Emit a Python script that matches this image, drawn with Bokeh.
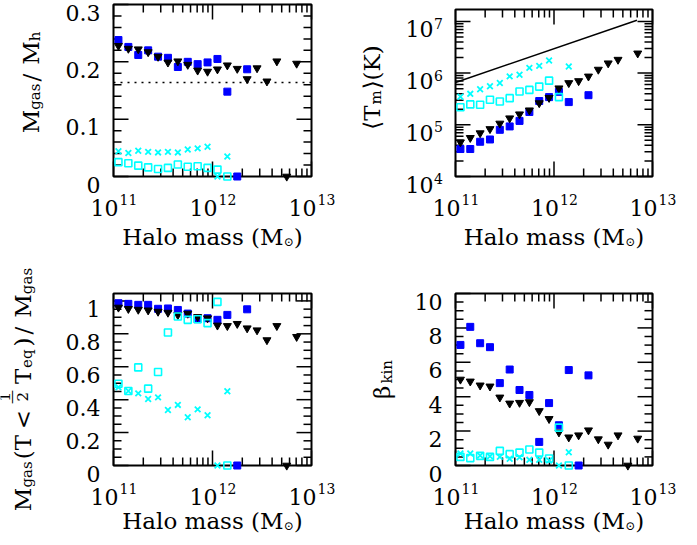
from math import pi, log10
from bokeh.plotting import figure
from bokeh.models import ColumnDataSource
from bokeh.core.properties import value
from bokeh.layouts import gridplot
from bokeh.embed import file_html
from bokeh.resources import INLINE

NAN = float("nan")
FONT = "DejaVu Serif"

# ---------------- data ----------------
halo_log_mass = [11.05, 11.15, 11.25, 11.35, 11.45, 11.55, 11.65, 11.75, 11.85, 11.95,
                 12.05, 12.15, 12.25, 12.35, 12.45, 12.55, 12.65, 12.75, 12.85]

# panel 1: Mgas / Mh
fgas_blue = [0.238, 0.226, 0.212, 0.220, 0.209, 0.207, 0.191, 0.200, 0.196, 0.199,
             0.205, 0.148, 0.0, 0.187, NAN, NAN, NAN, NAN, NAN]
fgas_tri = [0.228, 0.223, 0.222, 0.217, 0.209, 0.199, 0.201, 0.195, 0.185, 0.183,
            0.187, 0.194, 0.188, 0.170, 0.189, 0.166, 0.201, 0.0, 0.197]
fgas_cross = [0.044, 0.041, 0.045, 0.043, 0.042, 0.043, 0.042, 0.047, 0.049, 0.052,
              0.0, 0.035, NAN, NAN, NAN, NAN, NAN, NAN, NAN]
fgas_osq = [0.025, 0.023, 0.019, 0.016, 0.013, 0.015, 0.021, 0.017, 0.018, 0.015,
            0.012, 0.0, NAN, NAN, NAN, NAN, NAN, NAN, NAN]
baryon_fraction = 0.164

# panel 2: <T_m> (K)
tm_blue = [3.4e4, 3.4e4, 4.7e4, 5.2e4, 8.0e4, 9.3e4, 1.19e5, 1.77e5, 2.88e5, 3.43e5,
           4.34e5, 2.75e5, NAN, 3.74e5, NAN, NAN, NAN, NAN, NAN]
tm_tri = [4.6e4, 5.6e4, 6.9e4, 8.3e4, 1.06e5, 1.34e5, 1.60e5, 1.91e5, 2.63e5, 3.33e5,
          5.09e5, 6.44e5, 7.03e5, 8.63e5, 1.17e6, 1.55e6, 1.82e6, NAN, 2.41e6]
tm_cross = [3.48e5, 3.97e5, 4.88e5, 5.56e5, 6.44e5, 8.63e5, 9.29e5, 1.26e6, 1.38e6, 1.75e6,
            NAN, 1.34e6, NAN, NAN, NAN, NAN, NAN, NAN, NAN]
tm_osq = [2.18e5, 2.48e5, 2.45e5, 3.05e5, 2.83e5, 3.28e5, 4.40e5, 4.73e5, 5.48e5, 7.14e5,
          3.43e5, NAN, NAN, NAN, NAN, NAN, NAN, NAN, NAN]
tvir_mass = [1.0e11, 6.95e12]
tvir_temp = [6.6e5, 1.05e7]

# panel 3: Mgas(T < Teq/2) / Mgas
fcold_blue = [0.986, 0.982, 0.976, 0.976, 0.952, 0.954, 0.945, 0.923, 0.889, 0.895,
              0.885, 0.915, 0.0, 0.949, NAN, NAN, NAN, NAN, NAN]
fcold_tri = [0.960, 0.952, 0.947, 0.943, 0.935, 0.929, 0.915, 0.923, 0.903, 0.895,
             0.851, 0.848, 0.861, 0.834, 0.822, 0.762, 0.848, 0.0, 0.782]
fcold_cross = [0.475, 0.453, 0.438, 0.404, 0.414, 0.337, 0.368, 0.293, 0.341, 0.305,
               0.0, 0.451, NAN, NAN, NAN, NAN, NAN, NAN, NAN]
fcold_osq = [0.497, 0.453, 0.596, 0.467, 0.568, 0.808, 0.905, 0.885, 0.889, 0.865,
             0.994, 0.0, NAN, NAN, NAN, NAN, NAN, NAN, NAN]

# panel 4: beta_kin
beta_blue = [7.01, 8.06, 7.11, 6.88, 4.79, 5.58, 4.39, 4.10, 1.37, 3.63,
             2.34, 5.55, 0.0, 5.24, NAN, NAN, NAN, NAN, NAN]
beta_tri = [5.00, 4.89, 4.66, 4.60, 3.96, 3.61, 3.65, 3.69, 3.17, 2.71,
            1.93, 1.64, 1.76, 2.05, 1.53, 1.22, 1.76, 0.0, 1.57]
beta_cross = [0.70, 0.70, 0.58, 0.54, 0.50, 0.39, 0.48, 0.33, 0.33, 0.29,
              0.0, 0.77, NAN, NAN, NAN, NAN, NAN, NAN, NAN]
beta_osq = [0.50, 0.43, 0.56, 0.50, 0.85, 0.66, 0.75, 0.93, 0.75, 0.41,
            2.20, 0.0, NAN, NAN, NAN, NAN, NAN, NAN, NAN]

# axes: limits, ticks and tick labels
mass_lim = [1e11, 1e13]
mass_ticks = [1e11, 1e12, 1e13]
mass_tick_exp = ["11", "12", "13"]
mass_minor = [2e11, 3e11, 4e11, 5e11, 6e11, 7e11, 8e11, 9e11,
              2e12, 3e12, 4e12, 5e12, 6e12, 7e12, 8e12, 9e12]

fgas_lim = [0.0, 0.3]
fgas_ticks = [0.0, 0.1, 0.2, 0.3]
fgas_tick_labels = ["0", "0.1", "0.2", "0.3"]
fgas_minor = [0.02, 0.04, 0.06, 0.08, 0.12, 0.14, 0.16, 0.18, 0.22, 0.24, 0.26, 0.28]

tm_lim = [1e4, 10 ** 7.23]
tm_ticks = [1e4, 1e5, 1e6, 1e7]
tm_tick_exp = ["4", "5", "6", "7"]
tm_minor = [m * 10.0 ** e for e in (4, 5, 6) for m in range(2, 10)]

fcold_lim = [0.0, 1.045]
fcold_ticks = [0.0, 0.2, 0.4, 0.6, 0.8, 1.0]
fcold_tick_labels = ["0", "0.2", "0.4", "0.6", "0.8", "1"]
fcold_minor = [0.05, 0.1, 0.15, 0.25, 0.3, 0.35, 0.45, 0.5, 0.55, 0.65, 0.7, 0.75,
               0.85, 0.9, 0.95]

beta_lim = [0.0, 10.0]
beta_ticks = [0, 2, 4, 6, 8, 10]
beta_tick_labels = ["0", "2", "4", "6", "8", "10"]
beta_minor = [0.5, 1, 1.5, 2.5, 3, 3.5, 4.5, 5, 5.5, 6.5, 7, 7.5, 8.5, 9, 9.5]

halo_mass = [10.0 ** v for v in halo_log_mass]

MAIN = 22     # tick labels
TITLE = 23    # axis titles
SUB = 15
SUP = 14

# ---------------- helpers ----------------
WID = {' ': 0.318, '(': 0.390, ')': 0.390, '/': 0.337, '<': 0.838, '.': 0.318,
       'H': 0.873, 'M': 1.023, 'T': 0.70, 'K': 0.745, 'a': 0.598, 'l': 0.320,
       'o': 0.602, 'm': 0.950, 's': 0.512, 'g': 0.642, 'h': 0.642, 'e': 0.591,
       'q': 0.642, 'k': 0.606, 'i': 0.320, 'n': 0.642, '\u03b2': 0.63,
       '\u27e8': 0.39, '\u27e9': 0.39, '\u2299': 0.84, '1': 0.636, '2': 0.636,
       '\u2014': 1.0}


def tw(text, size):
    return sum(WID.get(c, 0.6) for c in text) * size


def put(p, xs, ys, texts, size, dx=0.0, dy_up=0.0, angle=0.0, align="left",
        baseline="alphabetic"):
    p.text(x=xs, y=ys, text=texts, x_offset=dx, y_offset=-dy_up, angle=angle,
           text_font=value(FONT), text_font_size=value("%gpx" % size),
           text_color="black", text_align=align, text_baseline=baseline)


def P(text, size, shift=0.0, dpos=0.0, adv=None, gap=0.0):
    return dict(text=text, size=size, shift=shift, dpos=dpos,
                adv=(tw(text, size) if adv is None else adv) + gap)


def text_run(p, anchor, pieces, cx, cy, vertical):
    total = sum(pc["adv"] for pc in pieces)
    pos = -total / 2.0
    for pc in pieces:
        if vertical:
            put(p, [anchor[0]], [anchor[1]], [pc["text"]], pc["size"],
                dx=cx + pc["shift"], dy_up=cy + pos + pc["dpos"], angle=pi / 2)
        else:
            put(p, [anchor[0]], [anchor[1]], [pc["text"]], pc["size"],
                dx=cx + pos + pc["dpos"], dy_up=cy - pc["shift"])
        pos += pc["adv"]


def panel(cw, ch, box, xlim, ylim, ylog=False):
    """Figure whose plotting area is the whole canvas; the data window
    xlim x ylim is mapped onto the pixel box (left, top, right, bottom)."""
    L, T, R, B = box
    lx0, lx1 = log10(xlim[0]), log10(xlim[1])
    ppx = (R - L) / (lx1 - lx0)
    xr = (10 ** (lx0 - L / ppx), 10 ** (lx1 + (cw - R) / ppx))
    if ylog:
        ly0, ly1 = log10(ylim[0]), log10(ylim[1])
        ppy = (B - T) / (ly1 - ly0)
        yr = (10 ** (ly0 - (ch - B) / ppy), 10 ** (ly1 + T / ppy))
    else:
        ppy = (B - T) / (ylim[1] - ylim[0])
        yr = (ylim[0] - (ch - B) / ppy, ylim[1] + T / ppy)
    p = figure(width=cw, height=ch, title=None, x_axis_type="log",
               y_axis_type="log" if ylog else "linear", x_range=xr, y_range=yr,
               x_axis_location=None, y_axis_location=None, min_border=0,
               min_border_left=0, min_border_right=0, min_border_top=0,
               min_border_bottom=0, output_backend="svg", toolbar_location=None,
               tools="")
    p.grid.visible = False
    p.outline_line_color = None
    p.background_fill_color = "white"
    p.border_fill_color = "white"
    p.quad(left=[xlim[0]], right=[xlim[1]], bottom=[ylim[0]], top=[ylim[1]],
           fill_color=None, line_color="black", line_width=2)
    return p


def ticks(p, xlim, ylim, xmaj, xmin, ymaj, ymin):
    for vals, ln in ((xmaj, 15), (xmin, 8)):
        n = len(vals)
        p.ray(x=vals, y=[ylim[0]] * n, length=ln, angle=pi / 2, length_units="screen",
              line_color="black", line_width=1.5)
        p.ray(x=vals, y=[ylim[1]] * n, length=ln, angle=-pi / 2, length_units="screen",
              line_color="black", line_width=1.5)
    for vals, ln in ((ymaj, 15), (ymin, 8)):
        n = len(vals)
        p.ray(x=[xlim[0]] * n, y=vals, length=ln, angle=0, length_units="screen",
              line_color="black", line_width=1.5)
        p.ray(x=[xlim[1]] * n, y=vals, length=ln, angle=pi, length_units="screen",
              line_color="black", line_width=1.5)


def mass_axis_labels(p, y0, fw, title_y):
    n = len(mass_ticks)
    put(p, mass_ticks, [y0] * n, ["10"] * n, MAIN, dx=5, dy_up=-31, align="right")
    put(p, mass_ticks, [y0] * n, mass_tick_exp, SUP, dx=6, dy_up=-23)
    text_run(p, (mass_lim[0], y0), [P("Halo mass (M", TITLE), P("\u2299", 12, shift=5),
                                    P(")", TITLE)], fw / 2.0, title_y, vertical=False)


def lin_y_labels(p, x0, vals, labels):
    put(p, [x0] * len(vals), vals, labels, MAIN, dx=-13, dy_up=-8, align="right")


def add_points(p, blue, tri, cross, osq):
    src = ColumnDataSource(dict(m=halo_mass, blue=blue, tri=tri, cross=cross, osq=osq))
    p.scatter("m", "blue", source=src, marker="square", size=7,
              fill_color="#0000ff", line_color="#0000ff")
    p.scatter("m", "tri", source=src, marker="inverted_triangle", size=8,
              fill_color="black", line_color="black")
    p.scatter("m", "osq", source=src, marker="square", size=7, fill_color=None,
              line_color="#00ffff", line_width=1.6)
    p.scatter("m", "cross", source=src, marker="x", size=8,
              line_color="#00ffff", line_width=1.8)


W_L, W_R = 350, 326
H_T, H_B = 249, 288

# ---------------- panel 1 ----------------
p1 = panel(W_L, H_T, (113, 4, 311, 176), mass_lim, fgas_lim)
ticks(p1, mass_lim, fgas_lim, mass_ticks, mass_minor, fgas_ticks, fgas_minor)
p1.line(mass_lim, [baryon_fraction, baryon_fraction], line_color="black",
        line_width=1.5, line_dash="2 5")
add_points(p1, fgas_blue, fgas_tri, fgas_cross, fgas_osq)
lin_y_labels(p1, mass_lim[0], fgas_ticks, fgas_tick_labels)
mass_axis_labels(p1, fgas_lim[0], 198, -60)
text_run(p1, (mass_lim[0], fgas_lim[0]),
         [P("M", TITLE), P("gas", SUB, shift=4, gap=2), P("/", TITLE, gap=9),
          P("M", TITLE), P("h", SUB, shift=4)], -83, 94, vertical=True)

# ---------------- panel 2 ----------------
p2 = panel(W_R, H_T, (105, 9, 302, 176), mass_lim, tm_lim, ylog=True)
ticks(p2, mass_lim, tm_lim, mass_ticks, mass_minor, tm_ticks, tm_minor)
p2.line(tvir_mass, tvir_temp, line_color="black", line_width=1.5)
add_points(p2, tm_blue, tm_tri, tm_cross, tm_osq)
n = len(tm_ticks)
put(p2, [mass_lim[0]] * n, tm_ticks, ["10"] * n, MAIN, dx=-22, dy_up=-8, align="right")
put(p2, [mass_lim[0]] * n, tm_ticks, tm_tick_exp, SUP, dx=-21.5, dy_up=-2)
mass_axis_labels(p2, tm_lim[0], 197, -60)
text_run(p2, (mass_lim[0], tm_lim[0]),
         [P("\u27e8T", TITLE), P("m", SUB, shift=4, gap=1), P("\u27e9(K)", TITLE)],
         -84, 89, vertical=True)

# ---------------- panel 3 ----------------
p3 = panel(W_L, H_B, (113, 44, 311, 216), mass_lim, fcold_lim)
ticks(p3, mass_lim, fcold_lim, mass_ticks, mass_minor, fcold_ticks, fcold_minor)
add_points(p3, fcold_blue, fcold_tri, fcold_cross, fcold_osq)
lin_y_labels(p3, mass_lim[0], fcold_ticks, fcold_tick_labels)
mass_axis_labels(p3, fcold_lim[0], 198, -55)
text_run(p3, (mass_lim[0], fcold_lim[0]),
         [P("M", TITLE), P("gas", SUB, shift=4, gap=2), P("(T", TITLE, gap=5),
          P("<", TITLE, gap=6),
          P("1", 15, shift=-18, dpos=2.5, adv=0), P("\u2014", 14, shift=-12, adv=0),
          P("2", 15, shift=0, dpos=2.5, adv=14, gap=6),
          P("T", TITLE), P("eq", SUB, shift=4, gap=3), P(")", TITLE, gap=3),
          P("/", TITLE, gap=9), P("M", TITLE), P("gas", SUB, shift=4)],
         -91, 76, vertical=True)

# ---------------- panel 4 ----------------
p4 = panel(W_R, H_B, (105, 44, 302, 216), mass_lim, beta_lim)
ticks(p4, mass_lim, beta_lim, mass_ticks, mass_minor, beta_ticks, beta_minor)
add_points(p4, beta_blue, beta_tri, beta_cross, beta_osq)
lin_y_labels(p4, mass_lim[0], beta_ticks, beta_tick_labels)
mass_axis_labels(p4, beta_lim[0], 197, -55)
text_run(p4, (mass_lim[0], beta_lim[0]),
         [P("\u03b2", TITLE, gap=1), P("kin", SUB, shift=5)], -74, 86, vertical=True)

grid = gridplot([[p1, p2], [p3, p4]], toolbar_location=None)
open("out.html", "w").write(file_html(grid, INLINE))
